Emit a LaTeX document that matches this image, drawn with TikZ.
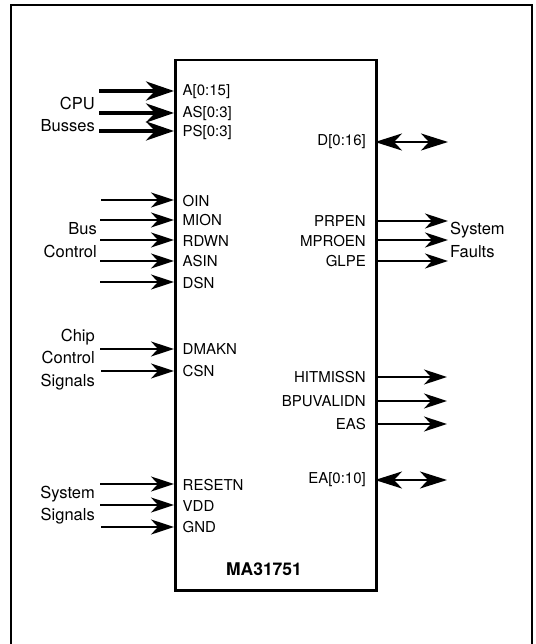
\documentclass[tikz,border=0pt]{standalone}
\usepackage{fontspec}
\setmainfont{TeX Gyre Heros}
\usetikzlibrary{arrows.meta}
\begin{document}
\begin{tikzpicture}[x=1pt,y=-1pt,
  pinfont/.style={font=\fontsize{15}{18}\selectfont},
  pinl/.style={pinfont,anchor=west,inner xsep=8.5pt,inner ysep=0pt},
  pinr/.style={pinfont,anchor=east,inner xsep=9pt,inner ysep=0pt},
  grp/.style={font=\fontsize{16.5}{22.5}\selectfont,inner sep=0pt},
  busarrow/.style={line width=4.2pt,-{Stealth[length=28pt,width=19pt,inset=9pt]}},
  sigarrow/.style={line width=2.2pt,-{Stealth[length=23pt,width=15pt,inset=7pt]}},
  bidir/.style={line width=2.5pt,{Stealth[length=27pt,width=17pt,inset=8pt]}-{Stealth[length=27pt,width=17pt,inset=8pt]}},
  frame/.style={line width=1.5pt},
  chipbox/.style={draw,line width=2.5pt,minimum width=201pt,minimum height=530pt,anchor=north west,inner sep=0pt}
]
\useasboundingbox (0,0) rectangle (535,644);
\draw[frame] (11,644) -- (11,5) -- (532,5) -- (532,644);

\node[chipbox] (chip) at (174,59) {};
\node[font=\bfseries\fontsize{17.5}{20}\selectfont] (name) at (264,569) {MA31751};

% left pins
\node[pinl] (pA) at (174,92) {A[0:15]};
\node[pinl] (pAS) at (174,113) {AS[0:3]};
\node[pinl] (pPS) at (174,132) {PS[0:3]};
\node[pinl] (pOIN) at (174,201) {OIN};
\node[pinl] (pMION) at (174,220) {MION};
\node[pinl] (pRDWN) at (174,241) {RDWN};
\node[pinl] (pASIN) at (174,261) {ASIN};
\node[pinl] (pDSN) at (174,283) {DSN};
\node[pinl] (pDMAKN) at (174,349) {DMAKN};
\node[pinl] (pCSN) at (174,371) {CSN};
\node[pinl] (pRES) at (174,485) {RESETN};
\node[pinl] (pVDD) at (174,506) {VDD};
\node[pinl] (pGND) at (174,527) {GND};

% right pins
\node[pinr] (pD) at (375,142) {D[0:16]};
\node[pinr] (pPRP) at (375,221) {PRPEN};
\node[pinr] (pMPR) at (375,241) {MPROEN};
\node[pinr] (pGLP) at (375,261) {GLPE};
\node[pinr] (pHIT) at (375,377) {HITMISSN};
\node[pinr] (pBPU) at (375,401) {BPUVALIDN};
\node[pinr] (pEAS) at (375,424) {EAS};
\node[pinr] (pEA) at (375,480) {EA[0:10]};

% group labels
\node[grp,align=right,anchor=east] (gcpu) at (95,114.5) {CPU\\Busses};
\node[grp,align=right,anchor=east] (gbus) at (97,240) {Bus\\Control};
\node[grp,align=right,anchor=east] (gchip) at (95,359.5) {Chip\\Control\\Signals};
\node[grp,align=right,anchor=east] (gsys) at (95,505) {System\\Signals};
\node[grp,align=left,anchor=west] (gflt) at (450,240) {System\\Faults};

% free ends
\coordinate (sA) at (99,91);
\coordinate (sAS) at (99,113);
\coordinate (sPS) at (99,131);
\coordinate (sOIN) at (101,200);
\coordinate (sMION) at (100,220);
\coordinate (sRDWN) at (100,240);
\coordinate (sASIN) at (100,261);
\coordinate (sDSN) at (100,282);
\coordinate (sDMAKN) at (100,349);
\coordinate (sCSN) at (101,371);
\coordinate (sRES) at (100,484);
\coordinate (sVDD) at (100,505);
\coordinate (sGND) at (101,527);
\coordinate (eD) at (448,142);
\coordinate (ePRP) at (448,221);
\coordinate (eMPR) at (448,240);
\coordinate (eGLP) at (448,261);
\coordinate (eHIT) at (447,377);
\coordinate (eBPU) at (447,401);
\coordinate (eEAS) at (447,424);
\coordinate (eEA) at (447,480);

% input arrows
\draw[busarrow] (sA) -- (pA.west |- sA);
\draw[busarrow] (sAS) -- (pAS.west |- sAS);
\draw[busarrow] (sPS) -- (pPS.west |- sPS);
\draw[sigarrow] (sOIN) -- (pOIN.west |- sOIN);
\draw[sigarrow] (sMION) -- (pMION.west |- sMION);
\draw[sigarrow] (sRDWN) -- (pRDWN.west |- sRDWN);
\draw[sigarrow] (sASIN) -- (pASIN.west |- sASIN);
\draw[sigarrow] (sDSN) -- (pDSN.west |- sDSN);
\draw[sigarrow] (sDMAKN) -- (pDMAKN.west |- sDMAKN);
\draw[sigarrow] (sCSN) -- (pCSN.west |- sCSN);
\draw[sigarrow,line width=2.8pt] (sRES) -- (pRES.west |- sRES);
\draw[sigarrow,line width=2.8pt] (sVDD) -- (pVDD.west |- sVDD);
\draw[sigarrow,line width=2.8pt] (sGND) -- (pGND.west |- sGND);

% output arrows
\draw[bidir] (pD.east) -- (eD);
\draw[sigarrow] (pPRP.east |- ePRP) -- (ePRP);
\draw[sigarrow] (pMPR.east |- eMPR) -- (eMPR);
\draw[sigarrow] (pGLP.east |- eGLP) -- (eGLP);
\draw[sigarrow] (pHIT.east |- eHIT) -- (eHIT);
\draw[sigarrow] (pBPU.east |- eBPU) -- (eBPU);
\draw[sigarrow,line width=1.8pt] (pEAS.east |- eEAS) -- (eEAS);
\draw[bidir] (pEA.east) -- (eEA);
\end{tikzpicture}
\end{document}
